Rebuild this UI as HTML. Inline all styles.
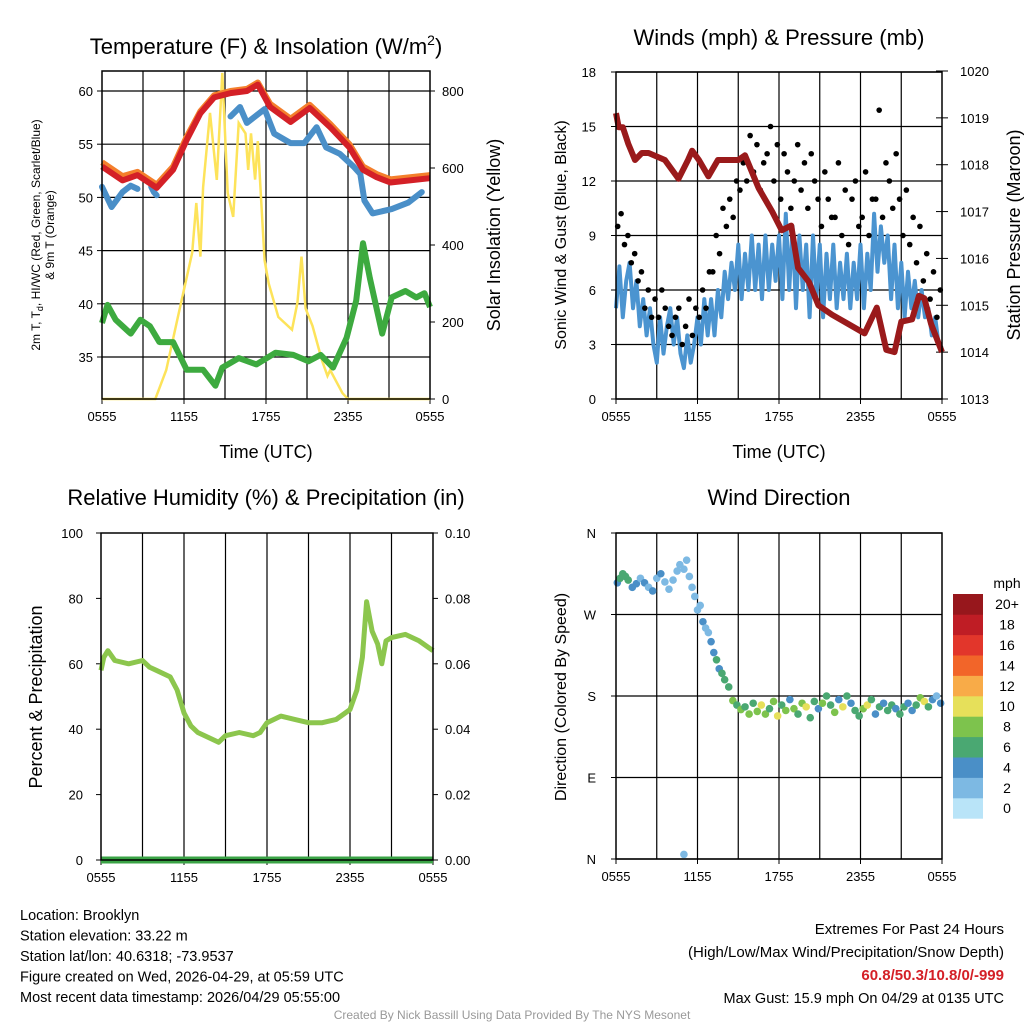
<!DOCTYPE html>
<html><head><meta charset="utf-8"><style>
body{margin:0;background:#fff;}
svg{display:block;font-family:"Liberation Sans",sans-serif;}
</style></head><body>
<svg id="c" width="1024" height="1024" viewBox="0 0 1024 1024"></svg>
<script>
// ---------- DATA ----------
const tempT=[0,1.5,2.6,4,5.2,6.2,7.2,8.2,9.4,10.6,11.4,12.3,13.8,15.2,16.7,18.1,19.1,20.1,21.1,24];
const tempVals=[52.9,51.6,52.1,50.9,52.6,55.4,57.9,59.4,59.8,60,60.6,58.5,57.1,58.4,56.6,54.7,52.6,51.9,51.4,51.8];
const orangeVals=[53.3,52.0,52.4,51.2,52.9,55.7,58.1,59.6,60,60.2,60.8,58.8,57.4,58.7,56.9,55.0,52.9,52.2,51.7,52.1];
const chillT1=[0,0.7,1.5,2.1,2.6];
const chillV1=[51,49.1,50.5,51.1,50.8];
const chillT2=[3.6,3.8,4.0];
const chillV2=[51,50.5,50.2];
const chillT3=[9.4,10.1,10.6,11.9,12.6,13.8,14.8,15.7,16.4,17.4,18.4,18.9,19.2,19.8,21.2,22.4,23.4];
const chillV3=[57.6,58.5,57,58.3,56,55.1,55.1,56.6,54.7,54.1,52.9,52.2,49.7,48.5,48.9,49.5,50.5];
const dewT=[0,0.4,1,2.1,2.8,3.5,4.2,5.2,6.2,7.4,8.3,8.8,10,11.3,12.7,14,15.1,16,16.9,17.9,18.6,19.1,19.6,20.5,21.2,22.2,23,23.6,24];
const dewV=[38.2,39.9,38.5,37.2,38.5,37.9,36.4,36.4,33.8,33.8,32.3,34,34.9,34.3,35.4,35.2,34.6,35.2,34,36.8,40.3,45.7,42.4,37.2,40.6,41.2,40.6,41,39.7];
const solarT=[0,3.9,4.7,5.5,6.6,6.9,7.2,7.4,7.9,8.4,8.8,9.2,9.6,10,10.5,10.7,10.9,11.2,11.4,11.9,12.2,12.9,13.9,14.3,14.6,14.9,15.4,16.1,16.5,16.7,17.6,18,24];
const solarV=[0,0,75,205,380,509,370,550,743,569,847,535,473,717,690,595,690,570,670,360,300,213,180,250,370,235,190,100,60,75,15,0,0];
const windV=[5,7.3,4.5,6.5,7.5,5,6.5,4,5.5,3.5,5,3,2,4.5,2.5,4,5,3,4.5,2.5,1.7,3.5,2,3,4.5,3,5.5,3.5,5.5,3.5,6,4.5,7,5.5,7.5,6,8.5,5.5,8,6,9,6,8.5,5.5,9,6,8.5,6.5,9,5.5,10.2,6,9.5,5,9,6,8.5,4.5,9,5.5,8.5,4.5,8,5.5,8.5,5,7.5,5.5,8,5,7.5,5.5,8.5,5,8,6,10.2,7,9.5,7.5,9,5.5,8.5,5,7.5,4.5,7,5,6.5,4.5,6,4.5,5,3.5,4.5,3,2.8];
const gustV=[9.5,10.2,8.5,9,7.5,8,6.5,7,5,6,4.5,5.5,4.5,6,5,4,3.5,4.5,5,3,4,5.5,3.5,5,4.5,6,5,7,7,9,8,10.5,9.5,11,10,12,11.5,13,12,14.5,12.5,14,11.5,13,13.5,15,12,14,11,13.5,12.5,10.5,12,14,11.5,13,10.5,13.5,12,11,9.5,12.5,11,10,10,13,9,11.5,8.5,11,12,9.5,10,12.5,9,11,11,15.9,10,13,12,10.5,13.5,11,9,11.5,8.5,10,7.5,9.5,6.5,8,5.5,7,4.5,6];
const presT=[0,0.2,0.5,0.9,1.4,1.9,2.4,3.6,4.6,5.3,5.6,6.1,6.8,7.5,9,9.5,10.5,11.5,12.2,12.9,13.4,14.2,14.9,15.9,17.1,18.3,19.2,19.9,20.5,21,21.8,22.3,22.7,23.2,24];
const presV=[1019.1,1018.8,1018.8,1018.45,1018.1,1018.25,1018.25,1018.1,1017.7,1018.1,1018.3,1018.1,1017.75,1018.1,1018.1,1018.2,1017.5,1017.0,1016.6,1016.7,1015.8,1015.5,1015.0,1014.8,1014.6,1014.4,1014.95,1014.05,1014.0,1014.65,1014.7,1015.2,1015.15,1014.6,1014.0];
const rhT=[0,0.2,0.5,1,2,3,3.5,4,5,5.5,6,6.5,7,8,8.5,9,10,11,11.5,12,13,14,15,16,17,18,18.5,18.9,19.2,19.6,20,20.3,20.6,21,22,23,24];
const rhV=[58,62,64,61,60,61,59,58,56,52,45,41,39,37,36,38,39,38,39,42,44,43,42,42,43,46,52,62,79,70,66,60,67,68,69,67,64];
const precipT=[0,24];
const precipV=[0,0];
const dirT=[0.1,0.3,0.5,0.7,0.9,1.2,1.5,1.8,2.1,2.4,2.7,3.0,3.3,3.6,3.9,4.2,4.5,4.7,5.0,5.2,5.4,5.6,5.8,6.0,6.2,6.4,6.6,6.8,7.0,7.2,7.4,7.6,7.8,8.0,8.3,8.6,8.9,9.2,9.5,9.8,10.1,10.4,10.7,11.0,11.3,11.6,11.9,12.2,12.5,12.8,13.1,13.4,13.7,14.0,14.3,14.6,14.9,15.2,15.5,15.8,16.1,16.4,16.7,17.0,17.3,17.6,17.9,18.2,18.5,18.8,19.1,19.4,19.7,20.0,20.3,20.6,20.9,21.2,21.5,21.8,22.1,22.4,22.7,23.0,23.3,23.6,23.9,5.0];
const dirV=[305,310,315,312,308,300,304,310,305,300,296,310,315,306,298,308,318,325,320,330,312,300,290,275,280,262,255,250,240,228,220,210,205,198,190,175,170,165,168,160,172,163,170,160,166,174,158,170,164,176,166,160,172,168,156,174,166,172,180,170,162,176,168,180,172,164,158,166,170,176,160,168,172,164,170,166,160,168,172,164,170,178,174,168,176,180,172,5];
const dirS=[4,6,6,7,6,5,4,3,4,3,4,3,4,3,2,2,3,2,2,2,2,3,2,3,2,4,3,2,5,4,6,5,7,6,7,8,6,8,7,9,6,8,10,9,7,8,10,6,8,5,9,7,8,10,6,7,5,9,6,7,8,4,10,6,5,7,6,8,10,7,5,6,4,7,6,5,6,7,5,4,6,8,10,6,4,3,4,2];
const cbLabels=["0","2","4","6","8","10","12","14","16","18","20+"];
const cbColors=["#b9e4f8","#7db9e3","#4a8fc7","#4aa872","#7dc34d","#e6e05a","#f8ab48","#f26529","#e2362b","#bf1d25","#97171c"];
const tempTicks=[35,40,45,50,55,60];
const solarTicks=[0,200,400,600,800];
const windTicks=[0,3,6,9,12,15,18];
const presTicks=[1013,1014,1015,1016,1017,1018,1019,1020];
const rhTicks=[0,20,40,60,80,100];
const prTicks=["0.00","0.02","0.04","0.06","0.08","0.10"];
const dirTicks=["N","E","S","W","N"];
const timeTicks=["0555","1155","1755","2355","0555"];

// ---------- DRAW ----------
const S=document.getElementById('c');const NS="http://www.w3.org/2000/svg";
function el(tag,at,parent){const e=document.createElementNS(NS,tag);for(const k in at)e.setAttribute(k,at[k]);(parent||S).appendChild(e);return e;}
function txt(x,y,s,size,anchor,extra){const t=el('text',Object.assign({x:x,y:y,'font-size':size,'text-anchor':anchor||'middle',fill:'#000'},extra||{}));t.textContent=s;return t;}
function lin(d0,d1,r0,r1){return v=>r0+(v-d0)*(r1-r0)/(d1-d0);}
function path(xs,ys,fx,fy){return xs.map((t,i)=>(i?'L':'M')+fx(t).toFixed(1)+','+fy(ys[i]).toFixed(1)).join('');}

function frame(x0,y0,x1,y1,fx,name){
  const g=el('g',{});
  for(let h=3;h<24;h+=3){el('line',{x1:fx(h),x2:fx(h),y1:y0,y2:y1,stroke:'#000','stroke-width':1.2},g);}
  timeTicks.forEach((s,i)=>{const t=txt(fx(i*6),y1+22,s,13);
    el('line',{x1:fx(i*6),x2:fx(i*6),y1:y1,y2:y1+5,stroke:'#000','stroke-width':1});});
  return g;
}
function border(x0,y0,x1,y1,name){const r=el('rect',{x:x0,y:y0,width:x1-x0,height:y1-y0,fill:'none',stroke:'#000','stroke-width':1.5});}

// Panel 1
(function(){
 const x0=102,x1=430,y0=71,y1=399;
 const fx=lin(0,24,x0,x1), fy=lin(60,35,91,357), fs=lin(0,800,399,91);
 frame(x0,y0,x1,y1,fx,'temp');
 tempTicks.forEach(v=>{el('line',{x1:x0,x2:x1,y1:fy(v),y2:fy(v),stroke:'#000','stroke-width':1.2});
  el('line',{x1:x0-5,x2:x0,y1:fy(v),y2:fy(v),stroke:'#000'});
  const t=txt(x0-9,fy(v)+5,String(v),13,'end');});
 solarTicks.forEach(v=>{el('line',{x1:x1,x2:x1+5,y1:fs(v),y2:fs(v),stroke:'#000'});
  const t=txt(x1+12,fs(v)+5,String(v),13,'start');});
 let p=el('path',{d:path(solarT,solarV,fx,fs),fill:'none',stroke:'#fde35a','stroke-width':2.5});
 p=el('path',{d:path(tempT,orangeVals,fx,fy),fill:'none',stroke:'#f47f2c','stroke-width':6,'stroke-linejoin':'round'});
 [[chillT1,chillV1],[chillT2,chillV2],[chillT3,chillV3]].forEach(a=>{const q=el('path',{d:path(a[0],a[1],fx,fy),fill:'none',stroke:'#4a8fc8','stroke-width':6,'stroke-linejoin':'round','stroke-linecap':'round'});});
 p=el('path',{d:path(tempT,tempVals,fx,fy),fill:'none',stroke:'#d42027','stroke-width':6,'stroke-linejoin':'round'});
 p=el('path',{d:path(dewT,dewV,fx,fy),fill:'none',stroke:'#3daa3f','stroke-width':6,'stroke-linejoin':'round'});
 border(x0,y0,x1,y1,'temp');
 let t=txt(266,54,'Temperature (F) & Insolation (W/m',22);
 const ts=el('tspan',{'font-size':14,dy:-9});ts.textContent='2';t.appendChild(ts);const ts2=el('tspan',{dy:9});ts2.textContent=')';t.appendChild(ts2);
 t=txt(266,458,'Time (UTC)',18);
 t=txt(0,0,'2m T, T',12,'middle',{transform:'translate(40,235) rotate(-90)'});
 const s1=el('tspan',{'font-size':9,dy:3});s1.textContent='d';t.appendChild(s1);const s2=el('tspan',{dy:-3});s2.textContent=', HI/WC (Red, Green, Scarlet/Blue)';t.appendChild(s2);
 t=txt(0,0,'& 9m T (Orange)',12,'middle',{transform:'translate(54,235) rotate(-90)'});
 t=txt(0,0,'Solar Insolation (Yellow)',18,'middle',{transform:'translate(500,235) rotate(-90)'});
})();

// Panel 2
(function(){
 const x0=616,x1=942,y0=72,y1=399;
 const fx=lin(0,24,x0,x1), fy=lin(0,18,399,72), fp=lin(1013,1020,399,71);
 frame(x0,y0,x1,y1,fx,'wind');
 windTicks.forEach(v=>{el('line',{x1:x0,x2:x1,y1:fy(v),y2:fy(v),stroke:'#000','stroke-width':1.2});
  el('line',{x1:x0-5,x2:x0,y1:fy(v),y2:fy(v),stroke:'#000'});
  const t=txt(x0-20,fy(v)+5,String(v),13,'end');});
 presTicks.forEach(v=>{el('line',{x1:x1-6,x2:x1+6,y1:fp(v),y2:fp(v),stroke:'#000'});
  const t=txt(x1+18,fp(v)+5,String(v),13,'start');});
 const wt=windV.map((v,i)=>i*24/(windV.length-1));
 let p=el('path',{d:path(wt,windV,fx,fy),fill:'none',stroke:'#4b94d0','stroke-width':4,'stroke-linejoin':'round'});
 gustV.forEach((v,i)=>{const c=el('circle',{cx:fx((i+0.5)/4),cy:fy(v),r:2.8,fill:'#000'});});
 p=el('path',{d:path(presT,presV,fx,fp),fill:'none',stroke:'#9a1a1b','stroke-width':6,'stroke-linejoin':'round'});
 border(x0,y0,x1,y1,'wind');
 let t=txt(779,45,'Winds (mph) & Pressure (mb)',22);
 t=txt(779,458,'Time (UTC)',18);
 t=txt(0,0,'Sonic Wind & Gust (Blue, Black)',16,'middle',{transform:'translate(566,235) rotate(-90)'});
 t=txt(0,0,'Station Pressure (Maroon)',18,'middle',{transform:'translate(1020,235) rotate(-90)'});
})();

// Panel 3
(function(){
 const x0=101,x1=433,y0=533,y1=860;
 const fx=lin(0,24,x0,x1), fy=lin(0,100,860,533);
 frame(x0,y0,x1,y1,fx,'rh');
 rhTicks.forEach((v,i)=>{el('line',{x1:x0-5,x2:x0,y1:fy(v),y2:fy(v),stroke:'#000'});el('line',{x1:x1,x2:x1+5,y1:fy(v),y2:fy(v),stroke:'#000'});
  let t=txt(x0-18,fy(v)+5,String(v),13,'end');
  t=txt(x1+12,fy(v)+5,prTicks[i],13,'start');});
 let p=el('path',{d:path(rhT,rhV,fx,fy),fill:'none',stroke:'#8cc64d','stroke-width':5,'stroke-linejoin':'round'});
 p=el('path',{d:path(precipT,precipV,fx,v=>fy(v)),fill:'none',stroke:'#3aa346','stroke-width':7});
 border(x0,y0,x1,y1,'rh');
 let t=txt(266,505,'Relative Humidity (%) & Precipitation (in)',22);
 t=txt(0,0,'Percent & Precipitation',18,'middle',{transform:'translate(42,697) rotate(-90)'});
})();

// Panel 4
(function(){
 const x0=616,x1=942,y0=533,y1=859;
 const fx=lin(0,24,x0,x1), fy=lin(0,360,859,533);
 frame(x0,y0,x1,y1,fx,'dir');
 dirTicks.forEach((s,i)=>{const y=fy(i*90);el('line',{x1:x0,x2:x1,y1:y,y2:y,stroke:'#000','stroke-width':1.2});el('line',{x1:x0-5,x2:x0,y1:y,y2:y,stroke:'#000'});
  const t=txt(x0-20,y+5,s,13,'end');});
 dirT.forEach((h,i)=>{const ci=Math.min(10,Math.floor(dirS[i]/2));const c=el('circle',{cx:fx(h),cy:fy(dirV[i]),r:3.8,fill:cbColors[ci]});});
 border(x0,y0,x1,y1,'dir');
 let t=txt(779,505,'Wind Direction',22);
 t=txt(0,0,'Direction (Colored By Speed)',16,'middle',{transform:'translate(566,697) rotate(-90)'});
 const cb=el('g',{});
 const bh=20.4, top=594;
 cbColors.forEach((c,i)=>{const y=top+(10-i)*bh;el('rect',{x:953,y:y,width:30,height:bh+0.3,fill:c},cb);
  const t=txt(1007,y+bh/2+5,cbLabels[i],14,'middle');});
 t=txt(1007,588,'mph',14);
})();

// Footer text
const L=["Location: Brooklyn","Station elevation: 33.22 m","Station lat/lon: 40.6318; -73.9537","Figure created on Wed, 2026-04-29, at 05:59 UTC","Most recent data timestamp: 2026/04/29 05:55:00"];
L.forEach((s,i)=>{const t=txt(20,920+i*20.5,s,14.5,'start');});
let t=txt(1004,934,'Extremes For Past 24 Hours',15,'end');
t=txt(1004,957,'(High/Low/Max Wind/Precipitation/Snow Depth)',15,'end');
t=txt(1004,980,'60.8/50.3/10.8/0/-999',15,'end',{fill:'#d42027','font-weight':'bold'});
t=txt(1004,1003,'Max Gust: 15.9 mph On 04/29 at 0135 UTC',14.5,'end');
t=txt(512,1019,'Created By Nick Bassill Using Data Provided By The NYS Mesonet',12,'middle',{fill:'#999'});
</script>
</body></html>
